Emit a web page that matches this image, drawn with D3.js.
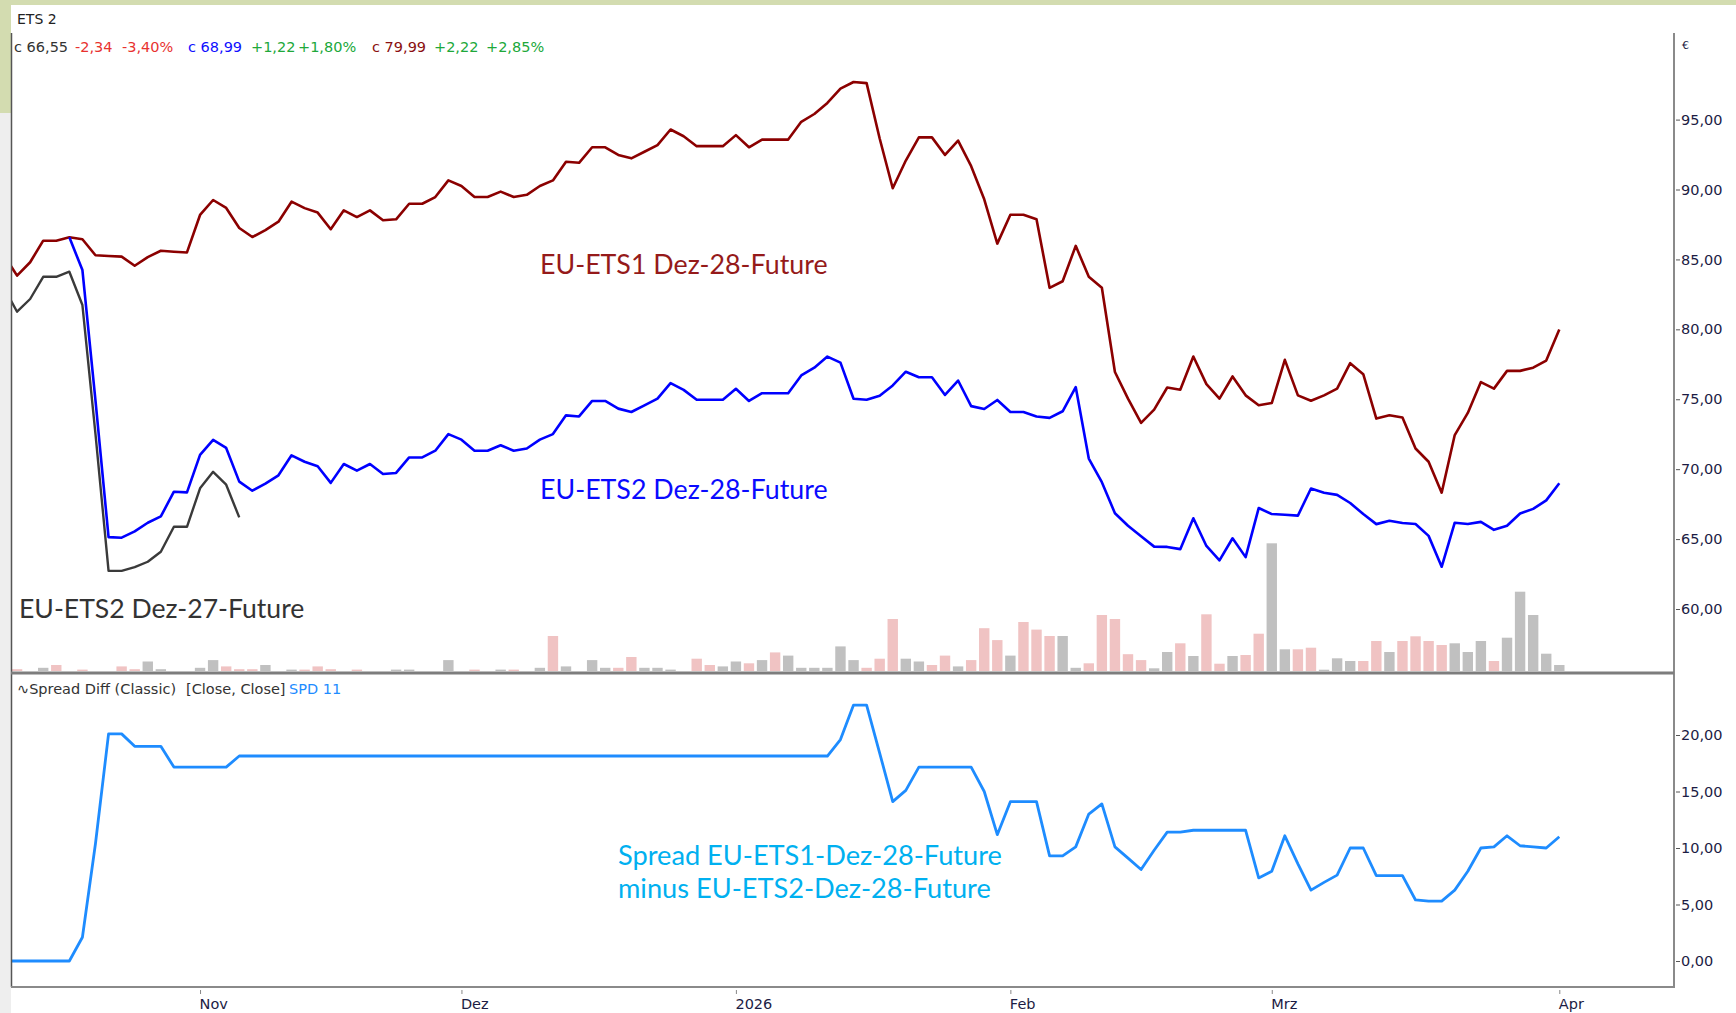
<!DOCTYPE html>
<html>
<head>
<meta charset="utf-8">
<script src="https://cdn.jsdelivr.net/npm/d3@7"></script>
<style>
  body { margin: 0; background: #fff; }
  svg text { font-family: "DejaVu Sans", sans-serif; }
  .note { font-family: Lato, "Open Sans", sans-serif; }
</style>
</head>
<body>
<svg id="chart" width="1736" height="1013"></svg>
<script>
// trading calendar (categories)
const firstDay = "2025-10-13", lastDay = "2026-04-01";
const holidays = ["2025-12-25", "2025-12-26", "2026-01-01"];
const monthNames = ["Jan", "Feb", "Mrz", "Apr", "Mai", "Jun", "Jul", "Aug", "Sep", "Okt", "Nov", "Dez"];

// EU-ETS1 Dez-28-Future close
const ets1Dez28 = [
  85.30, 83.84, 84.80, 86.34, 86.34, 86.58, 86.44, 85.30, 85.24, 85.20,
  84.55, 85.17, 85.62, 85.55, 85.50, 88.18, 89.25, 88.68, 87.25, 86.60,
  87.10, 87.70, 89.13, 88.67, 88.35, 87.16, 88.51, 88.03, 88.51, 87.80,
  87.87, 88.98, 88.98, 89.46, 90.65, 90.25, 89.46, 89.46, 89.85, 89.46,
  89.62, 90.25, 90.65, 91.99, 91.91, 93.02, 93.02, 92.47, 92.23, 92.70,
  93.18, 94.29, 93.81, 93.10, 93.10, 93.10, 93.89, 93.02, 93.57, 93.57,
  93.57, 94.84, 95.40, 96.19, 97.22, 97.69, 97.61, 93.65, 90.09, 92.07,
  93.73, 93.73, 92.47, 93.50, 91.67, 89.30, 86.13, 88.19, 88.19, 87.87,
  82.97, 83.44, 85.97, 83.76, 82.97, 76.95, 75.05, 73.31, 74.26, 75.84,
  75.68, 78.06, 76.08, 75.05, 76.63, 75.28, 74.57, 74.73, 77.82, 75.28,
  74.89, 75.28, 75.76, 77.58, 76.79, 73.62, 73.86, 73.70, 71.48, 70.53,
  68.32, 72.44, 74.02, 76.23, 75.76, 77.03, 77.03, 77.26, 77.77, 79.99
];

// EU-ETS2 Dez-28-Future close
const ets2Dez28 = [
  null, null, null, null, null, 86.58, 84.24, 74.90, 65.14, 65.10,
  65.55, 66.17, 66.62, 68.39, 68.34, 71.02, 72.09, 71.52, 69.11, 68.46,
  68.96, 69.56, 70.99, 70.53, 70.21, 69.02, 70.37, 69.89, 70.37, 69.66,
  69.73, 70.84, 70.84, 71.32, 72.51, 72.11, 71.32, 71.32, 71.71, 71.32,
  71.48, 72.11, 72.51, 73.85, 73.77, 74.88, 74.88, 74.33, 74.09, 74.56,
  75.04, 76.15, 75.67, 74.96, 74.96, 74.96, 75.75, 74.88, 75.43, 75.43,
  75.43, 76.70, 77.26, 78.05, 77.62, 75.04, 74.96, 75.25, 75.99, 76.97,
  76.57, 76.57, 75.31, 76.34, 74.51, 74.30, 74.95, 74.09, 74.09, 73.77,
  73.67, 74.14, 75.87, 70.76, 69.07, 66.85, 65.95, 65.21, 64.46, 64.44,
  64.28, 66.49, 64.51, 63.48, 65.06, 63.71, 67.22, 66.79, 66.74, 66.68,
  68.62, 68.32, 68.16, 67.58, 66.79, 66.07, 66.31, 66.15, 66.08, 65.23,
  63.02, 66.17, 66.08, 66.23, 65.66, 65.95, 66.83, 67.16, 67.77, 68.99
];

// EU-ETS2 Dez-27-Future close (rolled out early November)
const ets2Dez27 = [
  82.96, 81.26, 82.17, 83.76, 83.76, 84.12, 81.74, 72.50, 62.73, 62.73,
  63.00, 63.38, 64.09, 65.88, 65.88, 68.63, 69.81, 68.89, 66.55
];

// Spread Diff (Classic) SPD 11
const spreadDiff = [
  0, 0, 0, 0, 0, 0, 2.1, 10.4, 20.1, 20.1,
  19.0, 19.0, 19.0, 17.16, 17.16, 17.16, 17.16, 17.16, 18.14, 18.14,
  18.14, 18.14, 18.14, 18.14, 18.14, 18.14, 18.14, 18.14, 18.14, 18.14,
  18.14, 18.14, 18.14, 18.14, 18.14, 18.14, 18.14, 18.14, 18.14, 18.14,
  18.14, 18.14, 18.14, 18.14, 18.14, 18.14, 18.14, 18.14, 18.14, 18.14,
  18.14, 18.14, 18.14, 18.14, 18.14, 18.14, 18.14, 18.14, 18.14, 18.14,
  18.14, 18.14, 18.14, 18.14, 19.6, 22.65, 22.65, 18.4, 14.1, 15.1,
  17.16, 17.16, 17.16, 17.16, 17.16, 15.0, 11.18, 14.1, 14.1, 14.1,
  9.3, 9.3, 10.1, 13.0, 13.9, 10.1, 9.1, 8.1, 9.8, 11.4,
  11.4, 11.57, 11.57, 11.57, 11.57, 11.57, 7.35, 7.94, 11.08, 8.6,
  6.27, 6.96, 7.6, 10.0, 10.0, 7.55, 7.55, 7.55, 5.4, 5.3,
  5.3, 6.27, 7.94, 10.0, 10.1, 11.08, 10.2, 10.1, 10.0, 11.0
];

// volume (contracts) and bar type per day: p = pink, g = grey, - = none
const volume = [
  0, 18, 0, 32, 60, 0, 14, 0, 0, 46,
  18, 95, 18, 0, 0, 32, 109, 46, 18, 18,
  60, 0, 14, 14, 46, 18, 0, 14, 0, 0,
  14, 14, 0, 0, 109, 0, 14, 0, 14, 14,
  0, 32, 350, 46, 0, 109, 32, 32, 140, 32,
  32, 14, 0, 123, 60, 46, 95, 77, 109, 186,
  154, 32, 32, 32, 246, 109, 32, 123, 520, 123,
  95, 60, 154, 46, 109, 428, 309, 154, 490, 414,
  350, 350, 32, 77, 560, 520, 168, 109, 27, 190,
  277, 150, 567, 73, 150, 160, 373, 1277, 217, 217,
  233, 13, 127, 100, 100, 300, 190, 300, 347, 300,
  260, 277, 190, 300, 100, 333, 793, 560, 173, 60
];
const volType =
  "-p-gp-p--p" + "pgg--ggppp" + "g-gppp-p--" + "gg--g-p-gp" +
  "-gpg-ggppg" + "gg-ppggpgp" + "ggggggpppg" + "gppgpppgpp" +
  "pggpppppgg" + "pgppgppggp" + "pgggppgppp" + "pgggpggggg";

const yTicksTop = [60, 65, 70, 75, 80, 85, 90, 95];
const yTicksBottom = [0, 5, 10, 15, 20];

const header = [
  { t: "c 66,55", c: "#333333" }, { t: "-2,34", c: "#e8322f" }, { t: "-3,40%", c: "#e8322f" },
  { t: "c 68,99", c: "#1010ff" }, { t: "+1,22", c: "#20a83a" }, { t: "+1,80%", c: "#20a83a" },
  { t: "c 79,99", c: "#8b1010" }, { t: "+2,22", c: "#20a83a" }, { t: "+2,85%", c: "#20a83a" }
];

// ---------------------------------------------------------------
const svg = d3.select("#chart");
const W = 1736, H = 1013;
const plotLeft = 11, plotRight = 1674, plotTop = 33, sepY = 673, plotBottom = 987;

const parse = d3.utcParse("%Y-%m-%d");
const fmtDay = d3.utcFormat("%Y-%m-%d");
const days = d3.utcDay.range(parse(firstDay), d3.utcDay.offset(parse(lastDay), 1))
  .filter(d => d.getUTCDay() % 6 !== 0 && !holidays.includes(fmtDay(d)));

const x = d3.scaleLinear().domain([0, days.length - 1]).range([4, 1559.3]);
const yTop = d3.scaleLinear().domain([60, 95]).range([609, 119.6]);
const yBot = d3.scaleLinear().domain([0, 20]).range([961, 735]);
const yVol = d3.scaleLinear().domain([0, 1300]).range([sepY - 2, sepY - 132]);

const de = d3.formatLocale({ decimal: ",", thousands: ".", grouping: [3], currency: ["", " €"] });
const fmt = de.format(".2f");

// window chrome
svg.append("rect").attr("width", W).attr("height", H).attr("fill", "#fff");
svg.append("rect").attr("x", 0).attr("y", 0).attr("width", W).attr("height", 5).attr("fill", "#d3dcb0");
svg.append("rect").attr("x", 0).attr("y", 0).attr("width", plotLeft).attr("height", 113).attr("fill", "#d3dcb0");
svg.append("rect").attr("x", 0).attr("y", 113).attr("width", plotLeft).attr("height", H - 113).attr("fill", "#eeeeee");

const defs = svg.append("defs");
defs.append("clipPath").attr("id", "clipTop").append("rect")
  .attr("x", plotLeft + 1).attr("y", plotTop).attr("width", plotRight - plotLeft - 2).attr("height", sepY - plotTop - 2);
defs.append("clipPath").attr("id", "clipBot").append("rect")
  .attr("x", plotLeft + 1).attr("y", sepY + 2).attr("width", plotRight - plotLeft - 2).attr("height", plotBottom - sepY - 3);

// volume bars
const gTop = svg.append("g").attr("clip-path", "url(#clipTop)");
gTop.append("g").selectAll("rect")
  .data(volume.map((v, i) => ({ v, i, k: volType[i] })).filter(d => d.v > 0))
  .join("rect")
  .attr("x", d => x(d.i) - 5.2)
  .attr("width", 10.4)
  .attr("y", d => yVol(d.v))
  .attr("height", d => yVol(0) - yVol(d.v))
  .attr("fill", d => d.k === "p" ? "#f0c3c3" : "#c0c0c0");

const lineTop = d3.line()
  .defined(d => d != null)
  .x((d, i) => x(i))
  .y(d => yTop(d));

gTop.append("path").attr("d", lineTop(ets2Dez27))
  .attr("fill", "none").attr("stroke", "#3a3a3a").attr("stroke-width", 2.4).attr("stroke-linejoin", "round");
gTop.append("path").attr("d", lineTop(ets1Dez28))
  .attr("fill", "none").attr("stroke", "#8b0000").attr("stroke-width", 2.6).attr("stroke-linejoin", "round");
gTop.append("path").attr("d", lineTop(ets2Dez28))
  .attr("fill", "none").attr("stroke", "#0000ff").attr("stroke-width", 2.6).attr("stroke-linejoin", "round");

// spread panel
const gBot = svg.append("g").attr("clip-path", "url(#clipBot)");
gBot.append("path")
  .attr("d", d3.line().x((d, i) => x(i)).y(d => yBot(d))(spreadDiff))
  .attr("fill", "none").attr("stroke", "#1e8cff").attr("stroke-width", 2.8).attr("stroke-linejoin", "round");

// frame lines
svg.append("line").attr("x1", plotLeft + 0.5).attr("x2", plotLeft + 0.5).attr("y1", plotTop).attr("y2", plotBottom)
  .attr("stroke", "#555").attr("stroke-width", 1.5);
svg.append("line").attr("x1", plotRight).attr("x2", plotRight).attr("y1", plotTop).attr("y2", plotBottom + 1)
  .attr("stroke", "#8a8a8a").attr("stroke-width", 2);
svg.append("line").attr("x1", plotLeft).attr("x2", plotRight).attr("y1", sepY).attr("y2", sepY)
  .attr("stroke", "#7d7d7d").attr("stroke-width", 3);
svg.append("line").attr("x1", plotLeft).attr("x2", plotRight + 1).attr("y1", plotBottom).attr("y2", plotBottom)
  .attr("stroke", "#8a8a8a").attr("stroke-width", 2);

// right axes
function styleRight(g) {
  g.select(".domain").remove();
  g.selectAll(".tick line").attr("x1", 2).attr("x2", 6).attr("stroke", "#555");
  g.selectAll(".tick text").attr("x", 7).attr("fill", "#1c1c44")
    .style("font-size", "14.5px");
}
svg.append("g").attr("transform", `translate(${plotRight},0)`)
  .call(d3.axisRight(yTop).tickValues(yTicksTop).tickFormat(fmt))
  .call(styleRight);
svg.append("g").attr("transform", `translate(${plotRight},0)`)
  .call(d3.axisRight(yBot).tickValues(yTicksBottom).tickFormat(fmt))
  .call(styleRight);
svg.append("text").attr("x", plotRight + 8).attr("y", 49).attr("fill", "#1c1c44")
  .style("font-size", "11px").text("€");

// month axis
const monthIdx = days.map((d, i) => i).filter(i => i > 0 && days[i].getUTCMonth() !== days[i - 1].getUTCMonth());
svg.append("g").attr("transform", `translate(0,${plotBottom})`)
  .call(d3.axisBottom(x).tickValues(monthIdx).tickSize(6)
    .tickFormat(i => days[i].getUTCMonth() === 0 ? String(days[i].getUTCFullYear()) : monthNames[days[i].getUTCMonth()]))
  .call(g => {
    g.select(".domain").remove();
    g.selectAll(".tick line").attr("y1", 3).attr("y2", 7).attr("stroke", "#888");
    g.selectAll(".tick text").attr("text-anchor", "start").attr("x", -1).attr("y", 12)
      .attr("fill", "#1c1c44").style("font-size", "14.5px");
  });

// header
svg.append("text").attr("x", 17).attr("y", 24).attr("fill", "#222").style("font-size", "14px").text("ETS 2");
const headerX = [14, 75, 122, 188, 251, 298, 372, 434, 486];
svg.append("g").selectAll("text").data(header).join("text")
  .attr("x", (d, i) => headerX[i]).attr("y", 52)
  .attr("fill", d => d.c).style("font-size", "14.5px")
  .text(d => d.t);

// spread panel title
const spdTitle = svg.append("text").attr("y", 694).style("font-size", "14.5px");
spdTitle.append("tspan").attr("x", 17).attr("fill", "#333").text("∿Spread Diff (Classic)");
spdTitle.append("tspan").attr("x", 186).attr("fill", "#333").text("[Close, Close]");
spdTitle.append("tspan").attr("x", 289).attr("fill", "#1e8cff").text("SPD 11");

// annotations
function note(txt, xp, yp, color, size) {
  svg.append("text").attr("class", "note").attr("x", xp).attr("y", yp)
    .attr("fill", color).style("font-size", size + "px").text(txt);
}
note("EU-ETS1 Dez-28-Future", 540, 274, "#951a1a", 26.8);
note("EU-ETS2 Dez-28-Future", 540, 499, "#0a0aff", 26.8);
note("EU-ETS2 Dez-27-Future", 19, 618, "#333333", 26.6);
note("Spread EU-ETS1-Dez-28-Future", 618, 865, "#00b0f0", 27.2);
note("minus EU-ETS2-Dez-28-Future", 618, 898, "#00b0f0", 27.2);
</script>
</body>
</html>
